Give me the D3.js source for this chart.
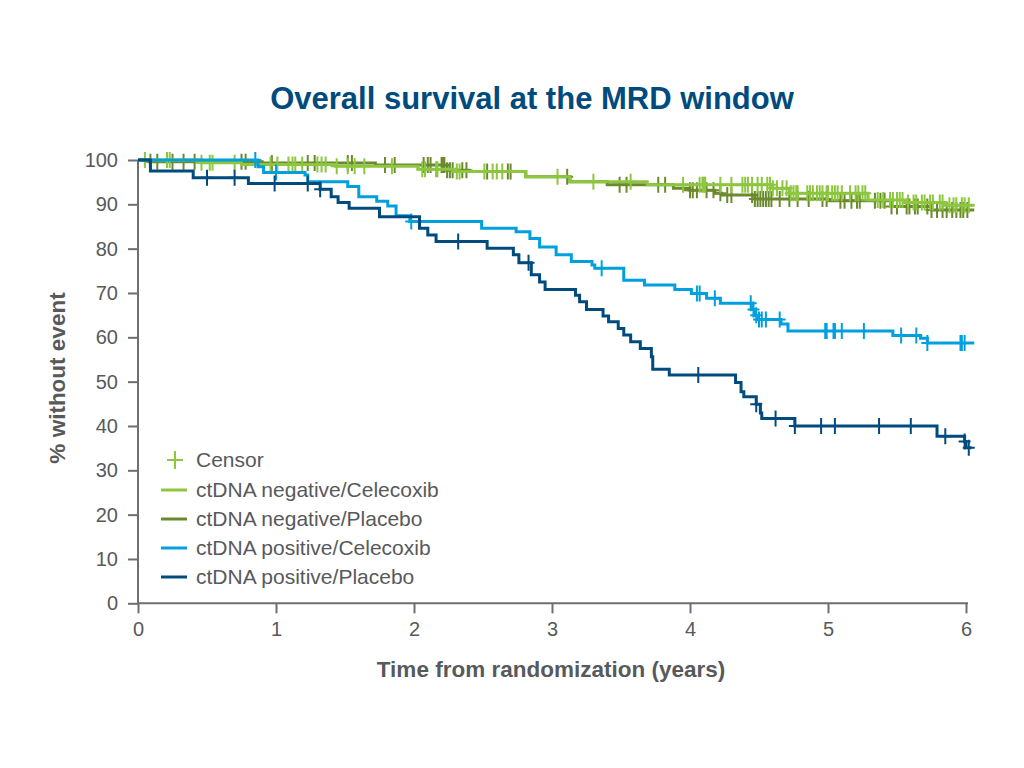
<!DOCTYPE html>
<html><head><meta charset="utf-8">
<script src="https://cdn.jsdelivr.net/npm/d3@7"></script>
<style>body{margin:0;background:#fff;} svg{display:block;}</style>
</head><body>
<svg id="chart" width="1024" height="768"></svg>
<script>
// ---- Data ----
const title = "Overall survival at the MRD window";
const xLabel = "Time from randomization (years)";
const yLabel = "% without event";
const xTicks = [0,1,2,3,4,5,6];
const yTicks = [0,10,20,30,40,50,60,70,80,90,100];
const seriesNames = ["ctDNA negative/Celecoxib","ctDNA negative/Placebo","ctDNA positive/Celecoxib","ctDNA positive/Placebo"];
const seriesColors = ["#8dc63f","#6b8a2e","#00a0df","#004b7d"];

// step points: [time (years), % without event]
const negCelecoxibSteps = [[0,100],[0.46,99.4],[0.75,99.0],[1.43,98.6],[2.03,97.9],[2.30,97.4],[2.81,96.2],[3.13,95.1],[3.69,94.4],[4.60,93.6],[4.72,92.5],[5.29,91.0],[5.56,90.4],[5.85,89.8]];
const negCelecoxibEnd = 6.06;
const negCelecoxibCensors = [0.05,0.21,0.23,0.46,0.52,0.54,0.70,0.96,1.01,1.09,1.12,1.14,1.19,1.30,1.33,1.36,1.44,1.52,1.57,1.64,1.84,2.06,2.08,2.16,2.17,2.31,2.33,2.51,2.57,2.60,2.64,3.04,3.30,3.57,3.95,4.07,4.09,4.10,4.11,4.22,4.30,4.38,4.40,4.42,4.45,4.49,4.52,4.56,4.58,4.60,4.63,4.67,4.70,4.73,4.75,4.77,4.78,4.85,4.87,4.89,4.92,4.94,4.96,4.99,5.00,5.03,5.05,5.07,5.10,5.16,5.20,5.22,5.25,5.27,5.36,5.40,5.45,5.47,5.50,5.52,5.54,5.58,5.62,5.64,5.68,5.70,5.74,5.76,5.81,5.83,5.88,5.91,5.93,5.97,5.99,6.02];

const negPlaceboSteps = [[0,100],[0.08,99.6],[0.90,99.3],[1.72,98.9],[2.24,97.7],[2.40,97.4],[2.81,96.2],[3.13,95.1],[3.40,94.4],[3.88,93.6],[4.00,93.2],[4.18,92.5],[4.23,92.1],[4.47,91.2],[5.00,90.8],[5.46,89.5],[5.75,88.7]];
const negPlaceboEnd = 6.06;
const negPlaceboCensors = [0.09,0.14,0.25,0.33,0.41,0.75,0.78,0.97,1.23,1.28,1.52,1.55,1.79,1.86,2.07,2.10,2.12,2.20,2.21,2.22,2.24,2.26,2.28,2.35,2.38,2.53,2.68,2.70,3.11,3.49,3.54,3.77,3.82,4.00,4.02,4.05,4.12,4.17,4.22,4.27,4.30,4.45,4.47,4.49,4.51,4.53,4.55,4.57,4.59,4.65,4.72,4.78,4.86,4.96,4.99,5.09,5.12,5.17,5.21,5.23,5.34,5.38,5.41,5.46,5.50,5.57,5.59,5.63,5.65,5.72,5.75,5.79,5.83,5.86,5.90,5.93,5.96,5.98,6.01];

const posCelecoxibSteps = [[0,100],[0.87,98.5],[0.91,97.2],[1.21,96.6],[1.23,95.1],[1.52,94.0],[1.60,91.7],[1.73,90.7],[1.81,89.6],[1.87,87.4],[1.97,86.1],[2.49,84.6],[2.74,83.8],[2.84,82.3],[2.91,80.4],[3.03,78.6],[3.14,77.1],[3.29,76.3],[3.31,75.6],[3.52,72.9],[3.67,71.8],[3.89,70.8],[4.01,69.9],[4.12,68.8],[4.22,67.7],[4.45,66.3],[4.47,65.0],[4.49,64.0],[4.66,63.0],[4.71,61.4],[5.47,60.4],[5.67,59.8],[5.72,58.7]];
const posCelecoxibEnd = 6.06;
const posCelecoxibCensors = [0.85,1.00,1.98,3.36,4.05,4.07,4.18,4.44,4.46,4.48,4.50,4.52,4.55,4.65,4.98,4.99,5.04,5.05,5.10,5.26,5.53,5.64,5.72,5.96,5.97,5.99];

const posPlaceboSteps = [[0,100],[0.09,97.5],[0.40,96.0],[0.80,94.7],[1.32,93.4],[1.40,91.7],[1.45,90.4],[1.53,89.1],[1.75,87.2],[2.04,84.6],[2.10,83.1],[2.16,81.6],[2.53,80.1],[2.72,78.6],[2.76,76.8],[2.85,74.1],[2.91,72.5],[2.95,70.8],[3.17,69.5],[3.20,68.0],[3.25,66.3],[3.37,64.8],[3.41,63.5],[3.48,62.0],[3.52,60.5],[3.57,59.0],[3.64,57.5],[3.72,55.6],[3.73,52.8],[3.85,51.5],[4.33,49.8],[4.37,47.7],[4.39,46.6],[4.48,44.9],[4.51,42.9],[4.52,41.7],[4.76,40.0],[5.79,37.7],[5.99,36.5],[6.00,35.1]];
const posPlaceboEnd = 6.04;
const posPlaceboCensors = [0.50,0.70,0.99,1.23,1.32,2.32,2.83,4.06,4.48,4.62,4.76,4.95,5.05,5.37,5.60,5.85,5.99,6.02];

// ---- Build ----
const svg = d3.select("#chart");
const x = d3.scaleLinear().domain([0,6]).range([138,966]);
const y = d3.scaleLinear().domain([0,100]).range([603.3,160]);
const textGray = "#58595b", axisGray = "#6d6e71";
const FONT = "'Liberation Sans', Arial, Helvetica, sans-serif";

svg.append("text").attr("x",532).attr("y",109).attr("text-anchor","middle")
  .attr("font-family",FONT).attr("font-weight","bold").attr("font-size",31)
  .attr("fill","#004b7d").text(title);

// axes
const xAxis = svg.append("g").attr("transform",`translate(0,${y(0)})`)
  .call(d3.axisBottom(x).tickValues(xTicks).tickSize(10).tickPadding(9).tickFormat(d3.format("d")));
const yAxis = svg.append("g").attr("transform",`translate(${x(0)},0)`)
  .call(d3.axisLeft(y).tickValues(yTicks).tickSize(10).tickPadding(10).tickFormat(d3.format("d")));
[xAxis,yAxis].forEach(g=>{
  g.select(".domain").attr("stroke",axisGray).attr("stroke-width",2);
  g.selectAll(".tick line").attr("stroke",axisGray).attr("stroke-width",2);
  g.selectAll(".tick text").attr("fill",textGray).attr("font-family",FONT).attr("font-size",20);
});
xAxis.select(".domain").attr("d",`M${x(0)},0H${x(6)+2}`);
yAxis.select(".domain").attr("d",`M0,${y(100)}V${y(0)}`);

svg.append("text").attr("x",551).attr("y",677).attr("text-anchor","middle")
  .attr("font-family",FONT).attr("font-weight","bold").attr("font-size",22.5)
  .attr("fill",textGray).text(xLabel);
svg.append("text").attr("transform","translate(65,378) rotate(-90)").attr("text-anchor","middle")
  .attr("font-family",FONT).attr("font-weight","bold").attr("font-size",22.5)
  .attr("fill",textGray).text(yLabel);

// curves
const series = [
  {steps:negPlaceboSteps,end:negPlaceboEnd,cens:negPlaceboCensors,color:seriesColors[1]},
  {steps:negCelecoxibSteps,end:negCelecoxibEnd,cens:negCelecoxibCensors,color:seriesColors[0]},
  {steps:posCelecoxibSteps,end:posCelecoxibEnd,cens:posCelecoxibCensors,color:seriesColors[2]},
  {steps:posPlaceboSteps,end:posPlaceboEnd,cens:posPlaceboCensors,color:seriesColors[3]}
];
const line = d3.line().x(d=>x(d[0])).y(d=>y(d[1])).curve(d3.curveStepAfter);
function survAt(steps,t){let v=steps[0][1];for(const s of steps){if(s[0]<=t)v=s[1];}return v;}
const plus = (cx,cy,h=8,w=6)=>`M${cx},${cy-h}V${cy+h}M${cx-w},${cy}H${cx+w}`;
series.forEach(s=>{
  const pts = s.steps.concat([[s.end,s.steps[s.steps.length-1][1]]]);
  svg.append("path").attr("d",line(pts)).attr("fill","none")
    .attr("stroke",s.color).attr("stroke-width",3).attr("stroke-linejoin","miter");
  svg.append("g").selectAll("path").data(s.cens).join("path")
    .attr("d",t=>plus(x(t),y(survAt(s.steps,t))))
    .attr("stroke",s.color).attr("stroke-width",2).attr("fill","none");
});

// legend
const lg = svg.append("g");
lg.append("path").attr("d",plus(175,460,9,8)).attr("stroke",seriesColors[0]).attr("stroke-width",2);
lg.append("text").attr("x",196).attr("y",467).attr("font-family",FONT).attr("font-size",21).attr("fill",textGray).text("Censor");
seriesNames.forEach((n,i)=>{
  const yy = 490 + i*29;
  lg.append("line").attr("x1",161).attr("x2",187).attr("y1",yy).attr("y2",yy).attr("stroke",seriesColors[i]).attr("stroke-width",3);
  lg.append("text").attr("x",196).attr("y",yy+7).attr("font-family",FONT).attr("font-size",21).attr("fill",textGray).text(n);
});
</script>
</body></html>
